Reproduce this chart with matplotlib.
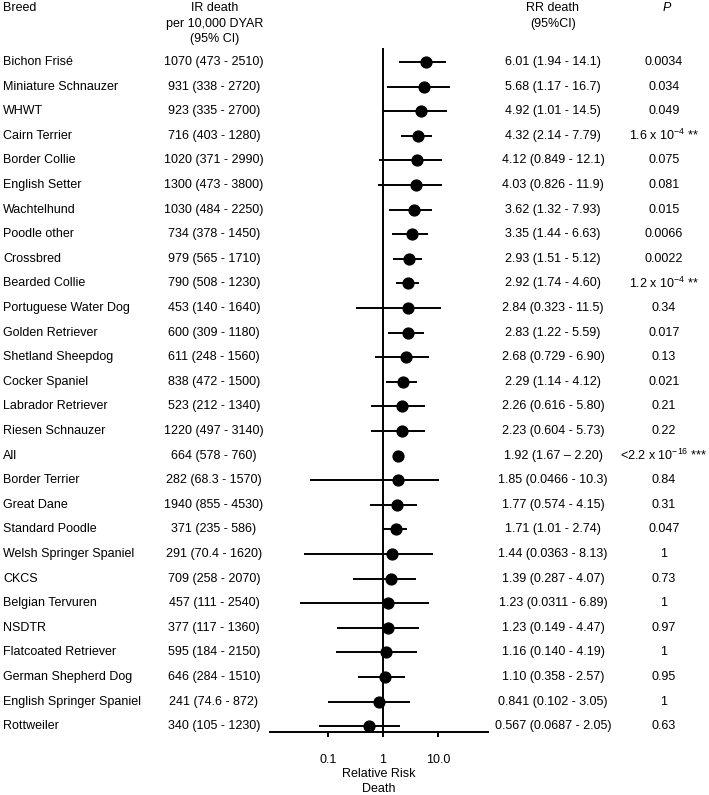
# Forest plot: relative risk of death by breed
import matplotlib.pyplot as plt
import numpy as np
from matplotlib.transforms import blended_transform_factory

plt.rcParams['font.family'] = ['Liberation Sans', 'DejaVu Sans']
plt.rcParams['mathtext.fontset'] = 'custom'
plt.rcParams['mathtext.rm'] = 'Liberation Sans'
plt.rcParams['mathtext.it'] = 'Liberation Sans:italic'

# Data
breeds = ["Bichon Frisé", "Miniature Schnauzer", "WHWT", "Cairn Terrier", "Border Collie",
          "English Setter", "Wachtelhund", "Poodle other", "Crossbred", "Bearded Collie",
          "Portuguese Water Dog", "Golden Retriever", "Shetland Sheepdog", "Cocker Spaniel",
          "Labrador Retriever", "Riesen Schnauzer", "All", "Border Terrier", "Great Dane",
          "Standard Poodle", "Welsh Springer Spaniel", "CKCS", "Belgian Tervuren", "NSDTR",
          "Flatcoated Retriever", "German Shepherd Dog", "English Springer Spaniel", "Rottweiler"]
ir_est = ["1070", "931", "923", "716", "1020", "1300", "1030", "734", "979", "790",
          "453", "600", "611", "838", "523", "1220", "664", "282", "1940", "371",
          "291", "709", "457", "377", "595", "646", "241", "340"]
ir_lo = ["473", "338", "335", "403", "371", "473", "484", "378", "565", "508",
         "140", "309", "248", "472", "212", "497", "578", "68.3", "855", "235",
         "70.4", "258", "111", "117", "184", "284", "74.6", "105"]
ir_hi = ["2510", "2720", "2700", "1280", "2990", "3800", "2250", "1450", "1710", "1230",
         "1640", "1180", "1560", "1500", "1340", "3140", "760", "1570", "4530", "586",
         "1620", "2070", "2540", "1360", "2150", "1510", "872", "1230"]
rr_est = ["6.01", "5.68", "4.92", "4.32", "4.12", "4.03", "3.62", "3.35", "2.93", "2.92",
          "2.84", "2.83", "2.68", "2.29", "2.26", "2.23", "1.92", "1.85", "1.77", "1.71",
          "1.44", "1.39", "1.23", "1.23", "1.16", "1.10", "0.841", "0.567"]
rr_lo = ["1.94", "1.17", "1.01", "2.14", "0.849", "0.826", "1.32", "1.44", "1.51", "1.74",
         "0.323", "1.22", "0.729", "1.14", "0.616", "0.604", "1.67", "0.0466", "0.574", "1.01",
         "0.0363", "0.287", "0.0311", "0.149", "0.140", "0.358", "0.102", "0.0687"]
rr_hi = ["14.1", "16.7", "14.5", "7.79", "12.1", "11.9", "7.93", "6.63", "5.12", "4.60",
         "11.5", "5.59", "6.90", "4.12", "5.80", "5.73", "2.20", "10.3", "4.15", "2.74",
         "8.13", "4.07", "6.89", "4.47", "4.19", "2.57", "3.05", "2.05"]
p_vals = ["0.0034", "0.034", "0.049", r"1.6 x 10$^{-4}$ **", "0.075", "0.081", "0.015",
          "0.0066", "0.0022", r"1.2 x 10$^{-4}$ **", "0.34", "0.017", "0.13", "0.021",
          "0.21", "0.22", r"<2.2 x 10$^{-16}$ ***", "0.84", "0.31", "0.047", "1", "0.73",
          "1", "0.97", "1", "0.95", "1", "0.63"]
xticks = [0.1, 1, 10]
xtick_labels = ["0.1", "1", "10.0"]

W, H = 709, 795
fig = plt.figure(figsize=(W / 100, H / 100), dpi=100)
ax = fig.add_axes([270 / W, 1 - 732 / H, (488 - 270) / W, (732 - 48) / H])

n = len(breeds)
y = -np.arange(n)
est = np.array([float(v) for v in rr_est])
lo = np.array([float(v) for v in rr_lo])
hi = np.array([float(v) for v in rr_hi])

ax.hlines(y, lo, hi, color='black', lw=1.4)
ax.plot(est, y, 'o', color='black', ms=7.8)
ax.axvline(1, color='black', lw=1.4)

ax.set_xscale('log')
ax.set_xlim(10 ** -2.05, 10 ** 1.91)
ax.set_ylim(-(n - 1) - 0.24, 0.57)
ax.set_xticks(xticks)
ax.set_xticklabels(xtick_labels)
ax.minorticks_off()
ax.set_yticks([])
for s in ['left', 'right', 'top']:
    ax.spines[s].set_visible(False)
ax.spines['bottom'].set_linewidth(1.4)
fs = 9
ax.tick_params(axis='x', length=3.6, width=1.4, labelsize=fs, pad=12.5)
ax.set_xlabel("Relative Risk\nDeath", fontsize=fs, labelpad=1, linespacing=1.35)

# Text columns
tr = blended_transform_factory(fig.transFigure, ax.transData)
for i in range(n):
    yi = y[i]
    dash = " \u2013 " if breeds[i] == "All" else " - "
    fig.text(3 / W, yi, breeds[i], transform=tr, ha='left', va='center', fontsize=fs)
    fig.text(214 / W, yi, f"{ir_est[i]} ({ir_lo[i]} - {ir_hi[i]})", transform=tr,
             ha='center', va='center', fontsize=fs)
    fig.text(553 / W, yi, f"{rr_est[i]} ({rr_lo[i]}{dash}{rr_hi[i]})", transform=tr,
             ha='center', va='center', fontsize=fs)
    fig.text(664 / W, yi, p_vals[i], transform=tr, ha='center', va='center', fontsize=fs)

# Headers
fig.text(3 / W, 1 - 8 / H, "Breed", ha='left', va='center', fontsize=fs)
fig.text(215 / W, 1 - 2 / H, "IR death\nper 10,000 DYAR\n(95% CI)", ha='center', va='top',
         fontsize=fs, linespacing=1.4)
fig.text(553 / W, 1 - 2 / H, "RR death\n(95%CI)", ha='center', va='top', fontsize=fs,
         linespacing=1.4)
fig.text(667 / W, 1 - 8 / H, "P", ha='center', va='center', fontsize=fs, style='italic')

fig.savefig("out.png", dpi=100)
